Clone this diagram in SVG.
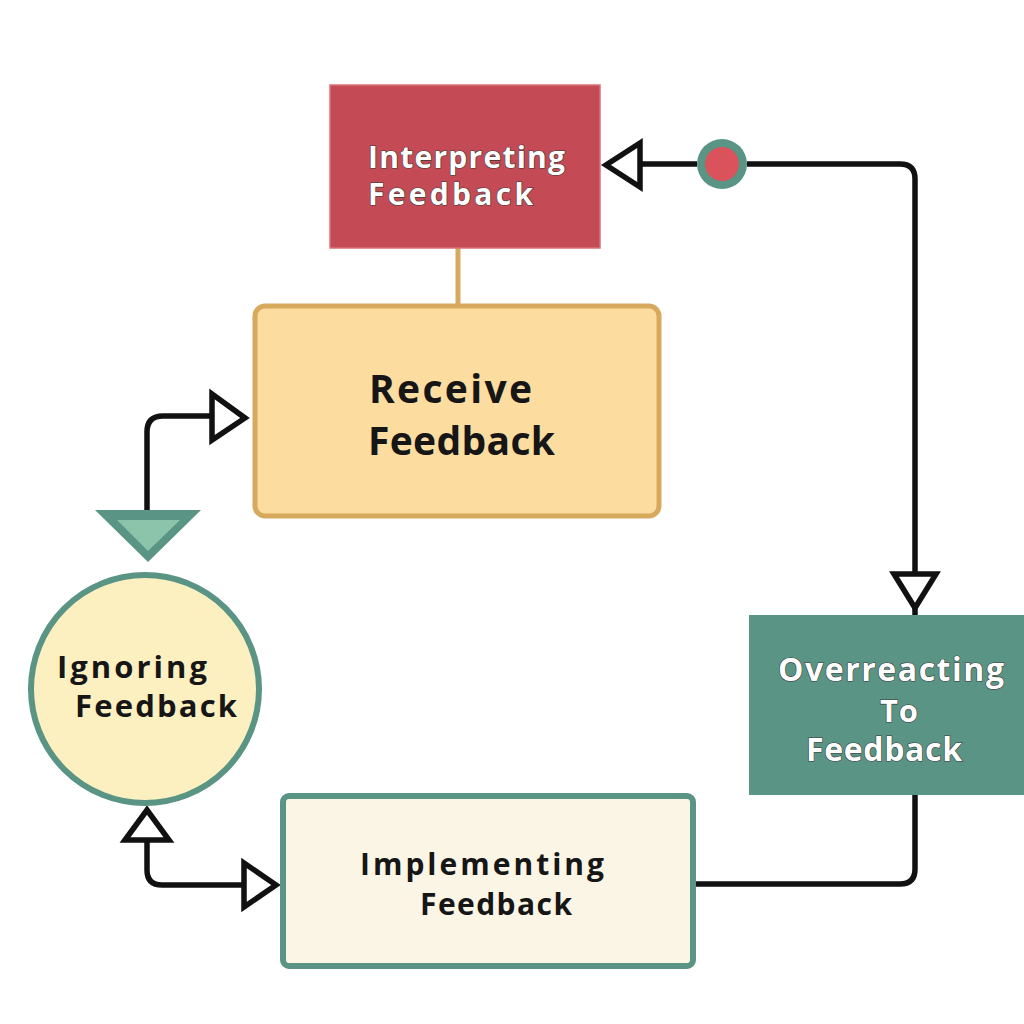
<svg xmlns="http://www.w3.org/2000/svg" width="1024" height="1024" viewBox="0 0 1024 1024">
<defs>
<style>
.lbl{font-family:"Open Sans","Noto Sans","Liberation Sans",sans-serif;font-weight:700;}
.wt{fill:#ffffff;stroke:#3a3a3a;stroke-width:1.2;paint-order:stroke;}
.dk{fill:#161616;}
.wire{fill:none;stroke:#111111;stroke-width:5.5;stroke-linejoin:round;}
.head{fill:#ffffff;stroke:#111111;stroke-width:5.5;stroke-linejoin:miter;}
</style>
</defs>
<rect width="1024" height="1024" fill="#ffffff"/>
<g id="connectors">
<line x1="458" y1="248" x2="458" y2="306" stroke="#d6a95c" stroke-width="5"/>
<path class="wire" d="M147 512 V432 Q147 416 163 416 H212"/>
<polygon class="head" points="212,394 245,418 212,440"/>
<path class="wire" d="M147 840 V870 Q147 885 162 885 H244"/>
<polygon class="head" points="125,840 147,810 169,840"/>
<polygon class="head" points="244,863 276,885 244,907"/>
<path class="wire" d="M694 884 H900 Q915 884 915 869 V795"/>
<path class="wire" d="M640 164 H697 M747 164 H900 Q915 164 915 179 V625"/>
<polygon class="head" points="640,143 606,165 640,187"/>
<polygon class="head" points="894,574 915,608 936,574"/>
<circle cx="722" cy="164" r="25" fill="#5a9484"/>
<circle cx="722" cy="164" r="17" fill="#d9525c"/>
</g>
<g id="interpreting">
<rect x="330" y="85" width="270" height="163" fill="#c44b55" stroke="#d8737a" stroke-width="1.5"/>
<text class="lbl wt" font-size="30" x="368" y="168" textLength="197" lengthAdjust="spacing">Interpreting</text>
<text class="lbl wt" font-size="30" x="368" y="205" textLength="165" lengthAdjust="spacing">Feedback</text>
</g>
<g id="receive">
<rect x="255" y="306" width="404" height="210" rx="10" fill="#fcdc9f" stroke="#d6a95c" stroke-width="5"/>
<text class="lbl dk" font-size="39" x="369" y="403" textLength="163" lengthAdjust="spacing">Receive</text>
<text class="lbl dk" font-size="39" x="368" y="455" textLength="187" lengthAdjust="spacing">Feedback</text>
</g>
<g id="ignoring">
<polygon points="95,510 201,510 148,562" fill="#5a9484"/>
<polygon points="117,520 180,520 148,551" fill="#8cc4ab"/>
<circle cx="145" cy="689" r="114" fill="#fdf0c0" stroke="#5a9484" stroke-width="6"/>
<text class="lbl dk" font-size="31" x="57" y="678" textLength="150" lengthAdjust="spacing">Ignoring</text>
<text class="lbl dk" font-size="31" x="75" y="717" textLength="162" lengthAdjust="spacing">Feedback</text>
</g>
<g id="implementing">
<rect x="283" y="796" width="410" height="170" rx="6" fill="#fbf5e6" stroke="#5a9484" stroke-width="6"/>
<text class="lbl dk" font-size="30" x="360" y="875" textLength="244" lengthAdjust="spacing">Implementing</text>
<text class="lbl dk" font-size="30" x="420" y="915" textLength="152" lengthAdjust="spacing">Feedback</text>
</g>
<g id="overreacting">
<rect x="749" y="615" width="275" height="180" fill="#5a9484"/>
<text class="lbl wt" font-size="32" x="778" y="681" textLength="226" lengthAdjust="spacing">Overreacting</text>
<text class="lbl wt" font-size="31" x="880" y="722" textLength="38" lengthAdjust="spacing">To</text>
<text class="lbl wt" font-size="32" x="806" y="761" textLength="156" lengthAdjust="spacing">Feedback</text>
</g>
</svg>
